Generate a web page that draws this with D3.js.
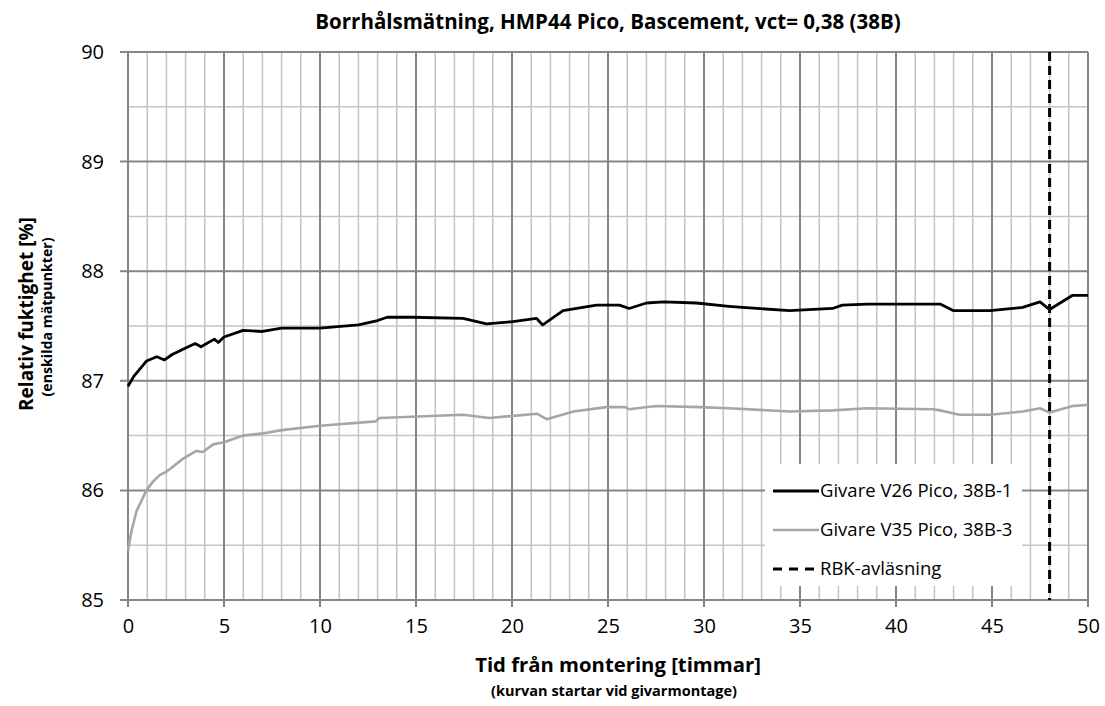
<!DOCTYPE html>
<html>
<head>
<meta charset="utf-8">
<script src="https://cdn.jsdelivr.net/npm/d3@7"></script>
<style>
  body { margin: 0; background: #fff; }
  svg { display: block; font-family: "Open Sans", sans-serif; }
</style>
</head>
<body>
<svg class="chart" width="1105" height="706"></svg>
<script>
// hours since installation, relative humidity [%]
var v26Hours = [0, 0.3, 0.96, 1.5, 1.9, 2.3, 3.0, 3.5, 3.8, 4.5, 4.7, 5.0, 6.0, 7.0, 8.0, 10.0, 12.0, 13.0, 13.5, 14.85, 17.45, 18.67, 20.05, 21.27, 21.6, 22.66, 24.4, 25.6, 26.1, 27.0, 27.9, 29.6, 31.3, 32.0, 34.46, 36.7, 37.2, 38.5, 41.9, 42.3, 43.0, 44.9, 46.6, 47.5, 48.0, 49.2, 50.0];
var v26Values = [86.95, 87.04, 87.18, 87.22, 87.19, 87.24, 87.30, 87.34, 87.31, 87.38, 87.35, 87.40, 87.46, 87.45, 87.48, 87.48, 87.51, 87.55, 87.58, 87.58, 87.57, 87.52, 87.54, 87.57, 87.51, 87.64, 87.69, 87.69, 87.66, 87.71, 87.72, 87.71, 87.68, 87.67, 87.64, 87.66, 87.69, 87.70, 87.70, 87.70, 87.64, 87.64, 87.67, 87.72, 87.65, 87.78, 87.78];

var v35Hours = [0, 0.17, 0.44, 0.96, 1.3, 1.65, 2.0, 2.87, 3.56, 3.9, 4.43, 5.0, 6.0, 7.0, 8.0, 10.0, 12.9, 13.1, 17.45, 18.8, 21.3, 21.8, 23.2, 24.9, 25.9, 26.1, 27.5, 29.8, 31.3, 34.5, 36.7, 38.5, 41.9, 42.3, 43.3, 44.9, 46.6, 47.5, 48.0, 49.2, 50.0];
var v35Values = [85.45, 85.62, 85.81, 86.00, 86.08, 86.14, 86.17, 86.29, 86.36, 86.35, 86.42, 86.44, 86.50, 86.52, 86.55, 86.59, 86.63, 86.66, 86.69, 86.66, 86.70, 86.65, 86.72, 86.76, 86.76, 86.74, 86.77, 86.76, 86.75, 86.72, 86.73, 86.75, 86.74, 86.73, 86.69, 86.69, 86.72, 86.75, 86.71, 86.77, 86.78];

var rbkHour = 48;
var xTicks = [0, 5, 10, 15, 20, 25, 30, 35, 40, 45, 50];
var yTicks = [85, 86, 87, 88, 89, 90];
var seriesNames = ["Givare V26 Pico, 38B-1", "Givare V35 Pico, 38B-3", "RBK-avläsning"];

var margin = {top: 52, right: 17, bottom: 106, left: 128};
var width = 1105 - margin.left - margin.right;
var height = 706 - margin.top - margin.bottom;

var svg = d3.select(".chart");
var vis = svg.append("g")
    .attr("transform", "translate(" + margin.left + "," + margin.top + ")");

var xscale = d3.scaleLinear().domain([0, 50]).range([0, width]);
var yscale = d3.scaleLinear().domain([85, 90]).range([height, 0]);

// minor grid: every hour, every half percent
vis.append("g")
  .selectAll("line")
  .data(d3.range(1, 50).filter(function(d) { return d % 5 !== 0; }))
  .enter().append("line")
    .attr("x1", function(d) { return xscale(d); })
    .attr("x2", function(d) { return xscale(d); })
    .attr("y1", 0).attr("y2", height)
    .style("stroke", "#c4c4c4").style("stroke-width", 1.5);

vis.append("g")
  .selectAll("line")
  .data(d3.range(85.5, 90, 1))
  .enter().append("line")
    .attr("x1", 0).attr("x2", width)
    .attr("y1", function(d) { return yscale(d); })
    .attr("y2", function(d) { return yscale(d); })
    .style("stroke", "#c4c4c4").style("stroke-width", 1.5);

// major grid
vis.append("g")
  .selectAll("line")
  .data(xTicks)
  .enter().append("line")
    .attr("x1", function(d) { return xscale(d); })
    .attr("x2", function(d) { return xscale(d); })
    .attr("y1", 0).attr("y2", height + 7)
    .style("stroke", "#868686").style("stroke-width", 2);

vis.append("g")
  .selectAll("line")
  .data(yTicks)
  .enter().append("line")
    .attr("x1", -8).attr("x2", width)
    .attr("y1", function(d) { return yscale(d); })
    .attr("y2", function(d) { return yscale(d); })
    .style("stroke", "#868686").style("stroke-width", 2);

// axes (labels only, lines drawn by the grid)
var xaxis = d3.axisBottom(xscale).tickValues(xTicks).tickSize(0).tickPadding(19);
vis.append("g")
  .attr("class", "axis")
  .attr("transform", "translate(0," + height + ")")
  .call(xaxis);

var yaxis = d3.axisLeft(yscale).tickValues(yTicks).tickSize(0).tickPadding(24)
  .tickFormat(d3.format("d"));
vis.append("g")
  .attr("class", "axis")
  .call(yaxis);

vis.selectAll(".axis .domain").remove();
vis.selectAll(".axis text")
  .style("font-family", "'Open Sans', sans-serif")
  .style("font-size", "20px")
  .style("fill", "#000");

// series
var line = d3.line()
  .x(function(d) { return xscale(d[0]); })
  .y(function(d) { return yscale(d[1]); });

vis.append("path")
  .datum(d3.zip(v35Hours, v35Values))
  .attr("d", line)
  .style("fill", "none").style("stroke", "#a6a6a6").style("stroke-width", 2.6)
  .style("stroke-linejoin", "round");

vis.append("path")
  .datum(d3.zip(v26Hours, v26Values))
  .attr("d", line)
  .style("fill", "none").style("stroke", "#000").style("stroke-width", 2.8)
  .style("stroke-linejoin", "round");

// RBK reading
vis.append("line")
  .attr("x1", xscale(rbkHour)).attr("x2", xscale(rbkHour))
  .attr("y1", yscale(90)).attr("y2", yscale(85))
  .style("stroke", "#000").style("stroke-width", 3)
  .style("stroke-dasharray", "9,5");

// legend
var legend = vis.append("g")
  .attr("transform", "translate(" + (765 - margin.left) + "," + (464 - margin.top) + ")");
legend.append("rect")
  .attr("width", 257).attr("height", 122)
  .style("fill", "#fff");

var legendStyles = [
  {stroke: "#000", width: 2.8, dash: null},
  {stroke: "#a6a6a6", width: 2.6, dash: null},
  {stroke: "#000", width: 3, dash: "9,7"}
];
seriesNames.forEach(function(name, i) {
  var y = 27 + i * 39;
  legend.append("line")
    .attr("x1", 8).attr("x2", 54).attr("y1", y).attr("y2", y)
    .style("stroke", legendStyles[i].stroke)
    .style("stroke-width", legendStyles[i].width)
    .style("stroke-dasharray", legendStyles[i].dash);
  legend.append("text")
    .attr("x", 55).attr("y", y + 6)
    .style("font-size", "18.5px")
    .text(name);
});

// titles
svg.append("text")
  .attr("x", 608).attr("y", 29)
  .attr("text-anchor", "middle")
  .style("font-size", "20.5px").style("font-weight", "bold")
  .text("Borrhålsmätning, HMP44 Pico, Bascement, vct= 0,38 (38B)");

svg.append("text")
  .attr("x", 618).attr("y", 672)
  .attr("text-anchor", "middle")
  .style("font-size", "20.3px").style("font-weight", "bold")
  .text("Tid från montering [timmar]");

svg.append("text")
  .attr("x", 614).attr("y", 696)
  .attr("text-anchor", "middle")
  .style("font-size", "14.5px").style("font-weight", "bold")
  .text("(kurvan startar vid givarmontage)");

svg.append("text")
  .attr("transform", "translate(33,314) rotate(-90)")
  .attr("text-anchor", "middle")
  .style("font-size", "19px").style("font-weight", "bold")
  .text("Relativ fuktighet [%]");

svg.append("text")
  .attr("transform", "translate(52,317) rotate(-90)")
  .attr("text-anchor", "middle")
  .style("font-size", "14.2px").style("font-weight", "bold")
  .text("(enskilda mätpunkter)");
</script>
</body>
</html>
